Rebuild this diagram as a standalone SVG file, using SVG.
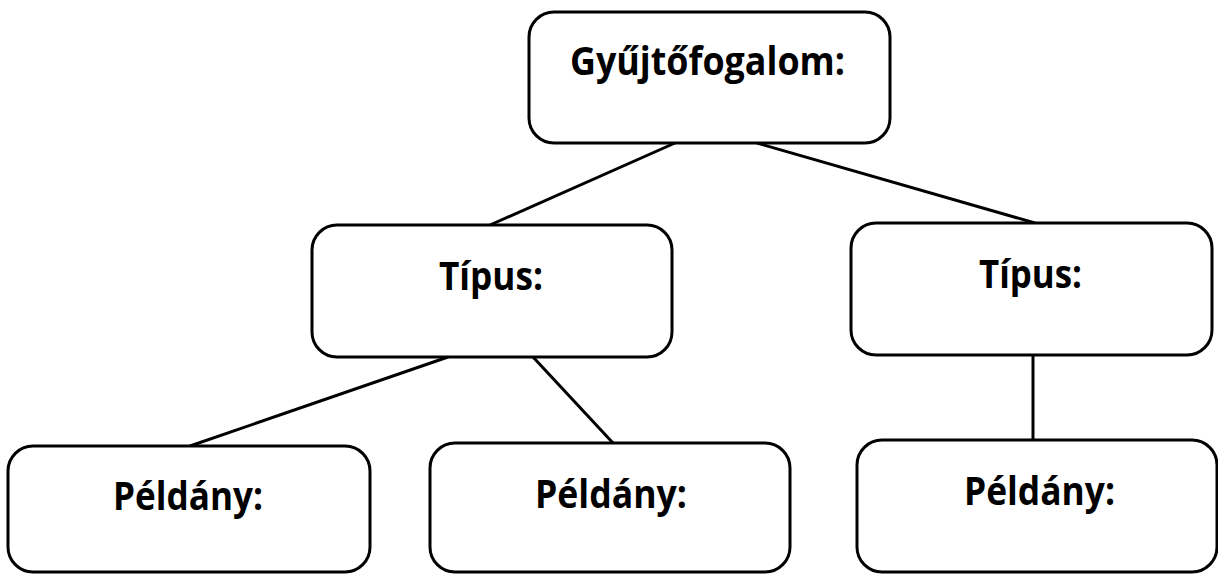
<svg xmlns="http://www.w3.org/2000/svg" width="1218" height="574" viewBox="0 0 1218 574">
<style>
.box{fill:#fff;stroke:#000;stroke-width:3}
.lbl{font-family:"Open Sans","Liberation Sans",sans-serif;font-weight:bold;font-size:39px;fill:#000}
.con{stroke:#000;stroke-width:3;fill:none}
</style>
<rect width="1218" height="574" fill="#fff"/>
<g id="connectors">
<line class="con" x1="675" y1="143" x2="490" y2="225"/>
<line class="con" x1="757" y1="143" x2="1035" y2="223"/>
<line class="con" x1="448" y1="357" x2="190" y2="446"/>
<line class="con" x1="533" y1="357" x2="613" y2="443"/>
<line class="con" x1="1033" y1="355" x2="1033" y2="440"/>
</g>
<g id="gyujtofogalom">
<rect class="box" x="529" y="12" width="361" height="131" rx="25"/>
<text class="lbl" x="570" y="75" textLength="275" lengthAdjust="spacingAndGlyphs">Gyűjtőfogalom:</text>
</g>
<g id="tipus-left">
<rect class="box" x="312" y="225" width="360" height="132" rx="25"/>
<text class="lbl" x="439" y="290" textLength="104" lengthAdjust="spacingAndGlyphs">Típus:</text>
</g>
<g id="tipus-right">
<rect class="box" x="851" y="223" width="361" height="132" rx="25"/>
<text class="lbl" x="979" y="288" textLength="103" lengthAdjust="spacingAndGlyphs">Típus:</text>
</g>
<g id="peldany-1">
<rect class="box" x="8" y="446" width="362" height="126" rx="25"/>
<text class="lbl" x="113" y="510" textLength="150" lengthAdjust="spacingAndGlyphs">Példány:</text>
</g>
<g id="peldany-2">
<rect class="box" x="430" y="443" width="360" height="129" rx="25"/>
<text class="lbl" x="535" y="508" textLength="152" lengthAdjust="spacingAndGlyphs">Példány:</text>
</g>
<g id="peldany-3">
<rect class="box" x="857" y="440" width="360" height="132" rx="25"/>
<text class="lbl" x="964" y="505" textLength="151" lengthAdjust="spacingAndGlyphs">Példány:</text>
</g>
</svg>
